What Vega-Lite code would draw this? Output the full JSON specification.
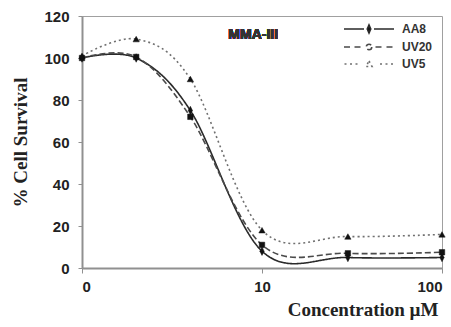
{
  "$schema": "https://vega.github.io/schema/vega-lite/v6.json",
  "width": 360,
  "height": 252,
  "autosize": {"type": "none"},
  "padding": {"left": 82, "top": 16, "right": 9, "bottom": 59},
  "background": "white",
  "config": {
    "view": {"stroke": "#a0a0a0", "strokeWidth": 1},
    "axis": {
      "grid": false,
      "domainColor": "#909090",
      "domainWidth": 2,
      "tickColor": "#909090",
      "tickWidth": 1,
      "labelFont": "Liberation Sans",
      "labelFontWeight": "bold",
      "labelFontSize": 15,
      "labelColor": "#222",
      "titleFont": "Liberation Serif",
      "titleFontWeight": "bold",
      "titleFontSize": 19,
      "titleColor": "#222"
    }
  },
  "data": {
    "values": [
      {"series": "AA8", "conc": 1, "survival": 100},
      {"series": "AA8", "conc": 2, "survival": 100},
      {"series": "AA8", "conc": 4, "survival": 75},
      {"series": "AA8", "conc": 10, "survival": 8},
      {"series": "AA8", "conc": 30, "survival": 5},
      {"series": "AA8", "conc": 100, "survival": 5},
      {"series": "UV20", "conc": 1, "survival": 100},
      {"series": "UV20", "conc": 2, "survival": 100.5},
      {"series": "UV20", "conc": 4, "survival": 72},
      {"series": "UV20", "conc": 10, "survival": 11},
      {"series": "UV20", "conc": 30, "survival": 7},
      {"series": "UV20", "conc": 100, "survival": 7.5},
      {"series": "UV5", "conc": 1, "survival": 101},
      {"series": "UV5", "conc": 2, "survival": 109},
      {"series": "UV5", "conc": 4, "survival": 90},
      {"series": "UV5", "conc": 10, "survival": 18},
      {"series": "UV5", "conc": 30, "survival": 15},
      {"series": "UV5", "conc": 100, "survival": 16}
    ]
  },
  "encoding": {
    "x": {
      "field": "conc",
      "type": "quantitative",
      "scale": {"type": "log", "domain": [1, 100], "nice": false},
      "axis": {
        "values": [1, 10, 100],
        "format": "d",
        "labelExpr": "datum.value == 1 ? '0' : datum.label",
        "tickSize": 5,
        "labelPadding": 6,
        "title": "Concentration µM",
        "titleAnchor": null,
        "titleAlign": "right",
        "titleBaseline": "alphabetic",
        "titleX": 356,
        "titleY": 47
      }
    },
    "y": {
      "field": "survival",
      "type": "quantitative",
      "scale": {"domain": [0, 120], "nice": false},
      "axis": {
        "values": [0, 20, 40, 60, 80, 100, 120],
        "tickSize": 4,
        "labelPadding": 9,
        "title": "% Cell Survival",
        "titleAnchor": null,
        "titleAlign": "center",
        "titleBaseline": "alphabetic",
        "titleAngle": 270,
        "titleX": -56,
        "titleY": 126
      }
    }
  },
  "layer": [
    {
      "mark": {"type": "line", "interpolate": "cardinal", "strokeWidth": 1.6, "clip": true},
      "encoding": {
        "strokeDash": {
          "field": "series",
          "type": "nominal",
          "scale": {"domain": ["AA8", "UV20", "UV5"], "range": [[1, 0], [6, 3], [2, 3]]},
          "legend": {
            "title": null,
            "orient": "none",
            "legendX": 281,
            "legendY": 7,
            "padding": 0,
            "symbolSize": 100,
            "symbolStrokeWidth": 1.5,
            "labelOffset": 27,
            "rowPadding": 4,
            "labelFont": "Liberation Sans",
            "labelFontWeight": "bold",
            "labelFontSize": 12,
            "labelColor": "#333",
            "encode": {
              "symbols": {
                "update": {
                  "shape": {"signal": "datum.value === 'AA8' ? 'M-5,0L-1,0M1,0L5,0M0,-0.8L0.35,0L0,0.8L-0.35,0Z' : datum.value === 'UV20' ? 'M-5,0L-3.5,0M-2.9,0L-1.3,0M1.3,0L2.9,0M3.5,0L5,0M0.55,0A0.55,0.55 0 1,1 -0.55,0A0.55,0.55 0 1,1 0.55,0Z' : 'M-4.9,0L-4.4,0M-3.8,0L-3.3,0M-2.7,0L-2.2,0M2.2,0L2.7,0M3.3,0L3.8,0M4.4,0L4.9,0M0,-0.6L0.6,0.5L-0.6,0.5Z'"},
                  "fill": {"signal": "datum.value === 'AA8' ? '#111' : 'white'"},
                  "stroke": {"signal": "datum.value === 'AA8' ? '#222' : datum.value === 'UV20' ? '#444' : '#777'"},
                  "strokeDash": {"value": [1, 0]},
                  "strokeWidth": {"value": 1.6},
                  "opacity": {"value": 1}
                }
              }
            }
          }
        },
        "stroke": {
          "field": "series",
          "type": "nominal",
          "scale": {"domain": ["AA8", "UV20", "UV5"], "range": ["#2a2a2a", "#4a4a4a", "#707070"]}
        }
      }
    },
    {
      "transform": [{"filter": "datum.series === 'AA8'"}],
      "mark": {"type": "point", "shape": "M0,-1.2L0.6,0L0,1.2L-0.6,0Z", "size": 50, "filled": true, "fill": "#111", "stroke": "#111", "strokeWidth": 0.5, "opacity": 1}
    },
    {
      "transform": [{"filter": "datum.series === 'UV20'"}],
      "mark": {"type": "point", "shape": "square", "size": 30, "filled": true, "fill": "#111", "stroke": "#111", "strokeWidth": 0.5, "opacity": 1}
    },
    {
      "transform": [{"filter": "datum.series === 'UV5'"}],
      "mark": {"type": "point", "shape": "triangle-up", "size": 40, "filled": true, "fill": "#111", "stroke": "#111", "strokeWidth": 0.5, "opacity": 1}
    },
    {
      "mark": {"type": "text", "align": "left", "baseline": "middle", "font": "Liberation Sans", "fontWeight": "bold", "fontSize": 14, "fill": "#333"},
      "encoding": {
        "x": {"datum": 6.5},
        "y": {"datum": 111},
        "text": {"value": "MMA-III"}
      }
    }
  ]
}
